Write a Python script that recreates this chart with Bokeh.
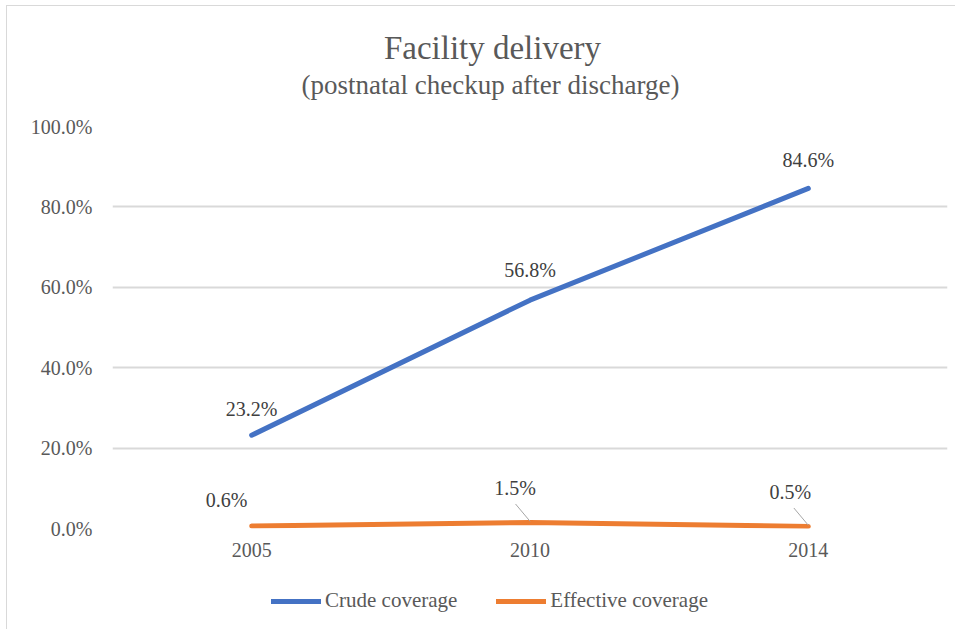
from bokeh.plotting import figure
from bokeh.layouts import column
from bokeh.models import (ColumnDataSource, Range1d, FactorRange, NumeralTickFormatter,
                          FixedTicker, Label, Legend, LegendItem)
from bokeh.transform import dodge
from bokeh.core.properties import value
from bokeh.embed import file_html
from bokeh.resources import INLINE

# ---- data ----
years = ["2005", "2010", "2014"]
crude = [0.232, 0.568, 0.846]
effective = [0.006, 0.015, 0.005]
crude_labels = ["23.2%", "56.8%", "84.6%"]
effective_labels = ["0.6%", "1.5%", "0.5%"]
y_ticks = [0.0, 0.2, 0.4, 0.6, 0.8, 1.0]
title_text = "Facility delivery"
subtitle_text = "(postnatal checkup after discharge)"
series_names = ["Crude coverage", "Effective coverage"]

# ---- styles ----
FONT = "Liberation Serif"
BLUE = "#4472C4"
ORANGE = "#ED7D31"
GREY_TEXT = "#595959"
LABEL_TEXT = "#404040"
GRID = "#d9d9d9"
W = 955
FRAME_L, FRAME_R = 112, 947          # frame edges (px); column aligns all frames to these
HEAD_H, MAIN_H, LEG_H = 105, 470, 54


def bare(fig):
    fig.outline_line_color = None
    fig.background_fill_color = None
    fig.border_fill_color = None
    return fig


# ---- header (title + subtitle); x range in page pixels ----
head = bare(figure(width=W, height=HEAD_H, x_range=Range1d(FRAME_L, FRAME_R),
                   y_range=Range1d(0, HEAD_H),
                   x_axis_type=None, y_axis_type=None, output_backend="svg",
                   toolbar_location=None, title=None,
                   min_border_left=FRAME_L, min_border_right=W - FRAME_R,
                   min_border_top=0, min_border_bottom=0))
head.add_layout(Label(x=492, y=HEAD_H - 47, text=title_text, text_align="center",
                      text_baseline="middle", text_font=FONT, text_font_size="33px",
                      text_color=GREY_TEXT))
head.add_layout(Label(x=490, y=HEAD_H - 84, text=subtitle_text, text_align="center",
                      text_baseline="middle", text_font=FONT, text_font_size="27px",
                      text_color=GREY_TEXT))

# ---- main chart ----
p = bare(figure(width=W, height=MAIN_H, x_range=FactorRange(*years), y_range=Range1d(0, 1),
                output_backend="svg", toolbar_location=None, title=None,
                min_border_left=FRAME_L, min_border_right=W - FRAME_R,
                min_border_top=21, min_border_bottom=47))

p.xgrid.grid_line_color = None
p.ygrid.grid_line_color = GRID
p.ygrid.grid_line_width = 2

for ax in (p.xaxis[0], p.yaxis[0]):
    ax.axis_line_color = None
    ax.major_tick_line_color = None
    ax.minor_tick_line_color = None
    ax.major_label_text_font = FONT
    ax.major_label_text_font_size = "20px"
    ax.major_label_text_color = GREY_TEXT
p.yaxis.ticker = FixedTicker(ticks=y_ticks)
p.yaxis.formatter = NumeralTickFormatter(format="0.0%")
p.yaxis.major_label_standoff = 14
p.xaxis.major_label_standoff = 8

# label offsets in pixels (bokeh y_offset: positive = down)
src_c = ColumnDataSource(dict(year=years, v=crude, lab=crude_labels,
                              dx=[0, 0, 0], dy=[-26, -30, -28]))
src_e = ColumnDataSource(dict(year=years, v=effective, lab=effective_labels,
                              dx=[-25, -15, -18], dy=[-26, -34, -34]))

r_c = p.line("year", "v", source=src_c, line_width=5, line_color=BLUE, line_cap="round")
r_e = p.line("year", "v", source=src_e, line_width=5, line_color=ORANGE, line_cap="round")

# leader lines for the two small orange labels
lead_src = ColumnDataSource(dict(year=years[1:], v=effective[1:]))
p.segment(x0=dodge("year", -0.052, range=p.x_range), y0=dodge("v", 0.046),
          x1="year", y1=dodge("v", 0.003), source=lead_src,
          line_color="#a6a6a6", line_width=1)

for src in (src_c, src_e):
    p.text("year", "v", text="lab", source=src, x_offset="dx", y_offset="dy",
           text_align="center", text_baseline="middle",
           text_font=value(FONT), text_font_size="20px", text_color=LABEL_TEXT)

# ---- legend strip ----
leg = bare(figure(width=W, height=LEG_H, x_range=Range1d(0, 1), y_range=Range1d(0, 1),
                  x_axis_type=None, y_axis_type=None, output_backend="svg",
                  toolbar_location=None, title=None,
                  min_border_left=FRAME_L, min_border_right=W - FRAME_R,
                  min_border_top=0, min_border_bottom=0))
nan = float("nan")
lc = leg.line(x=[nan], y=[nan], line_width=5, line_color=BLUE, line_cap="round")
le = leg.line(x=[nan], y=[nan], line_width=5, line_color=ORANGE, line_cap="round")
legend = Legend(items=[LegendItem(label=series_names[0], renderers=[lc]),
                       LegendItem(label=series_names[1], renderers=[le])],
                location=(271 - FRAME_L, 16), orientation="horizontal",
                glyph_width=50, glyph_height=20, label_height=20, label_standoff=4, spacing=39,
                padding=0, margin=0, border_line_color=None, background_fill_alpha=0,
                label_text_font=FONT, label_text_font_size="21px",
                label_text_color=GREY_TEXT)
leg.add_layout(legend)

page = column(head, p, leg, spacing=0,
              styles={"background-color": "white",
                      "background-image": "linear-gradient(#d9d9d9,#d9d9d9), linear-gradient(#d9d9d9,#d9d9d9)",
                      "background-size": "1px 100%, 100% 1px",
                      "background-position": "6px 5px, 6px 5px",
                      "background-repeat": "no-repeat"})

open("out.html", "w").write(file_html(page, INLINE))
